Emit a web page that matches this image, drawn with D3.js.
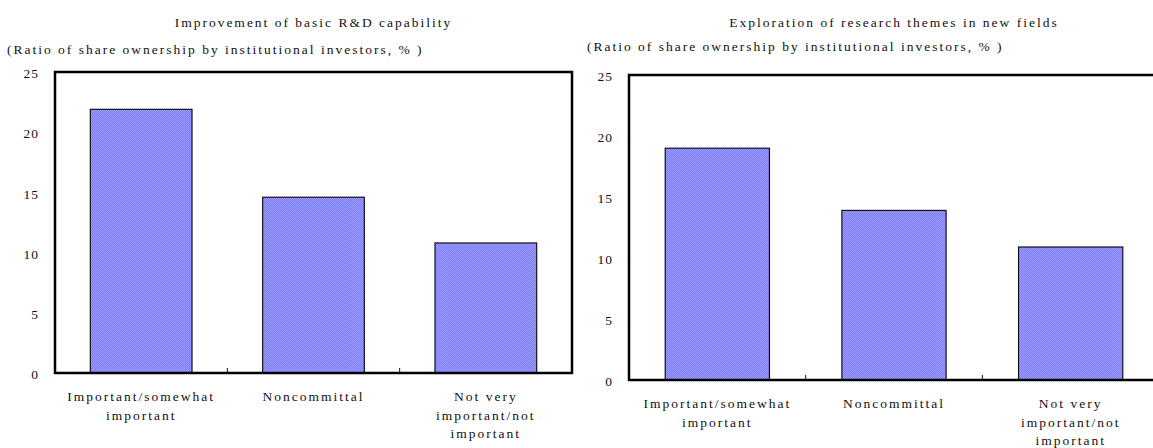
<!DOCTYPE html>
<html>
<head>
<meta charset="utf-8">
<script src="https://cdn.jsdelivr.net/npm/d3@7"></script>
<style>
  html, body { margin: 0; padding: 0; background: #fff; }
  svg text { font-family: "Liberation Serif", "DejaVu Serif", serif; fill: #111; }
</style>
</head>
<body>
<svg id="chart" width="1153" height="448"></svg>
<script>
// Survey answer groups (x categories), split into display lines
const categories = ["Important/somewhat important", "Noncommittal", "Not very important/not important"];
const categoryLines = [["Important/somewhat", "important"], ["Noncommittal"], ["Not very", "important/not", "important"]];

// Ratio of share ownership by institutional investors (%)
const basicRdValues = [21.9, 14.6, 10.8];
const newFieldValues = [19.0, 13.9, 10.9];

const yTicks = [0, 5, 10, 15, 20, 25];
const yMax = 25;

const panelTitles = ["Improvement of basic R&D capability", "Exploration of research themes in new fields"];
const yAxisLabel = "(Ratio of share ownership by institutional investors, % )";

const svg = d3.select("#chart");

// dotted blue fill used by the bars
const defs = svg.append("defs");
const pat = defs.append("pattern")
  .attr("id", "barFill").attr("patternUnits", "userSpaceOnUse")
  .attr("width", 2).attr("height", 2);
pat.append("rect").attr("width", 2).attr("height", 2).attr("fill", "#7b7bff");
pat.append("rect").attr("width", 1).attr("height", 1).attr("fill", "#9e9eff");
pat.append("rect").attr("x", 1).attr("y", 1).attr("width", 1).attr("height", 1).attr("fill", "#9e9eff");

const panels = [
  { title: panelTitles[0], values: basicRdValues, left: 55, right: 572, top: 72, bottom: 373,
    titleY: 27, labelX: 7, labelY: 54, catY: 401 },
  { title: panelTitles[1], values: newFieldValues, left: 629, right: 1159, top: 75, bottom: 380,
    titleY: 27, labelX: 587, labelY: 51, catY: 408 }
];

const fontSize = 13.5;
const spacing = "2px";

panels.forEach(p => {
  const g = svg.append("g");

  const x = d3.scaleBand().domain(categories).range([p.left, p.right]).padding(0);
  const y = d3.scaleLinear().domain([0, yMax]).range([p.bottom, p.top]);
  const barW = x.bandwidth() * 0.59;

  // title and y-axis caption
  g.append("text")
    .attr("x", (p.left + p.right) / 2).attr("y", p.titleY)
    .attr("text-anchor", "middle").attr("font-size", fontSize)
    .attr("letter-spacing", spacing)
    .text(p.title);
  g.append("text")
    .attr("x", p.labelX).attr("y", p.labelY)
    .attr("font-size", fontSize).attr("letter-spacing", spacing)
    .text(yAxisLabel);

  // bars
  g.selectAll("rect.bar").data(p.values).enter().append("rect")
    .attr("class", "bar")
    .attr("x", (d, i) => x(categories[i]) + (x.bandwidth() - barW) / 2)
    .attr("width", barW)
    .attr("y", d => y(d))
    .attr("height", d => y(0) - y(d))
    .attr("fill", "url(#barFill)")
    .attr("stroke", "#111").attr("stroke-width", 1.2);

  // y axis labels (no tick marks)
  const yAxis = d3.axisLeft(y).tickValues(yTicks).tickSize(0).tickPadding(16);
  const ya = g.append("g").attr("transform", `translate(${p.left},0)`).call(yAxis);
  ya.select(".domain").remove();
  ya.selectAll("text")
    .attr("font-size", fontSize).attr("letter-spacing", "1px")
    .attr("font-family", "Liberation Serif, serif").attr("fill", "#111")
    .attr("dy", "0.42em");

  // small ticks between categories along the baseline
  const bounds = categories.slice(1).map(c => x(c));
  g.selectAll("line.sep").data(bounds).enter().append("line")
    .attr("x1", d => d).attr("x2", d => d)
    .attr("y1", p.bottom).attr("y2", p.bottom - 5)
    .attr("stroke", "#111").attr("stroke-width", 1);

  // plot frame
  g.append("rect")
    .attr("x", p.left).attr("y", p.top)
    .attr("width", p.right - p.left).attr("height", p.bottom - p.top)
    .attr("fill", "none").attr("stroke", "#000").attr("stroke-width", 2.5);

  // category labels
  categories.forEach((c, i) => {
    const t = g.append("text")
      .attr("x", x(c) + x.bandwidth() / 2).attr("y", p.catY)
      .attr("text-anchor", "middle").attr("font-size", fontSize)
      .attr("letter-spacing", spacing);
    categoryLines[i].forEach((line, k) => {
      t.append("tspan")
        .attr("x", x(c) + x.bandwidth() / 2)
        .attr("dy", k === 0 ? 0 : 18.5)
        .text(line);
    });
  });
});
</script>
</body>
</html>
